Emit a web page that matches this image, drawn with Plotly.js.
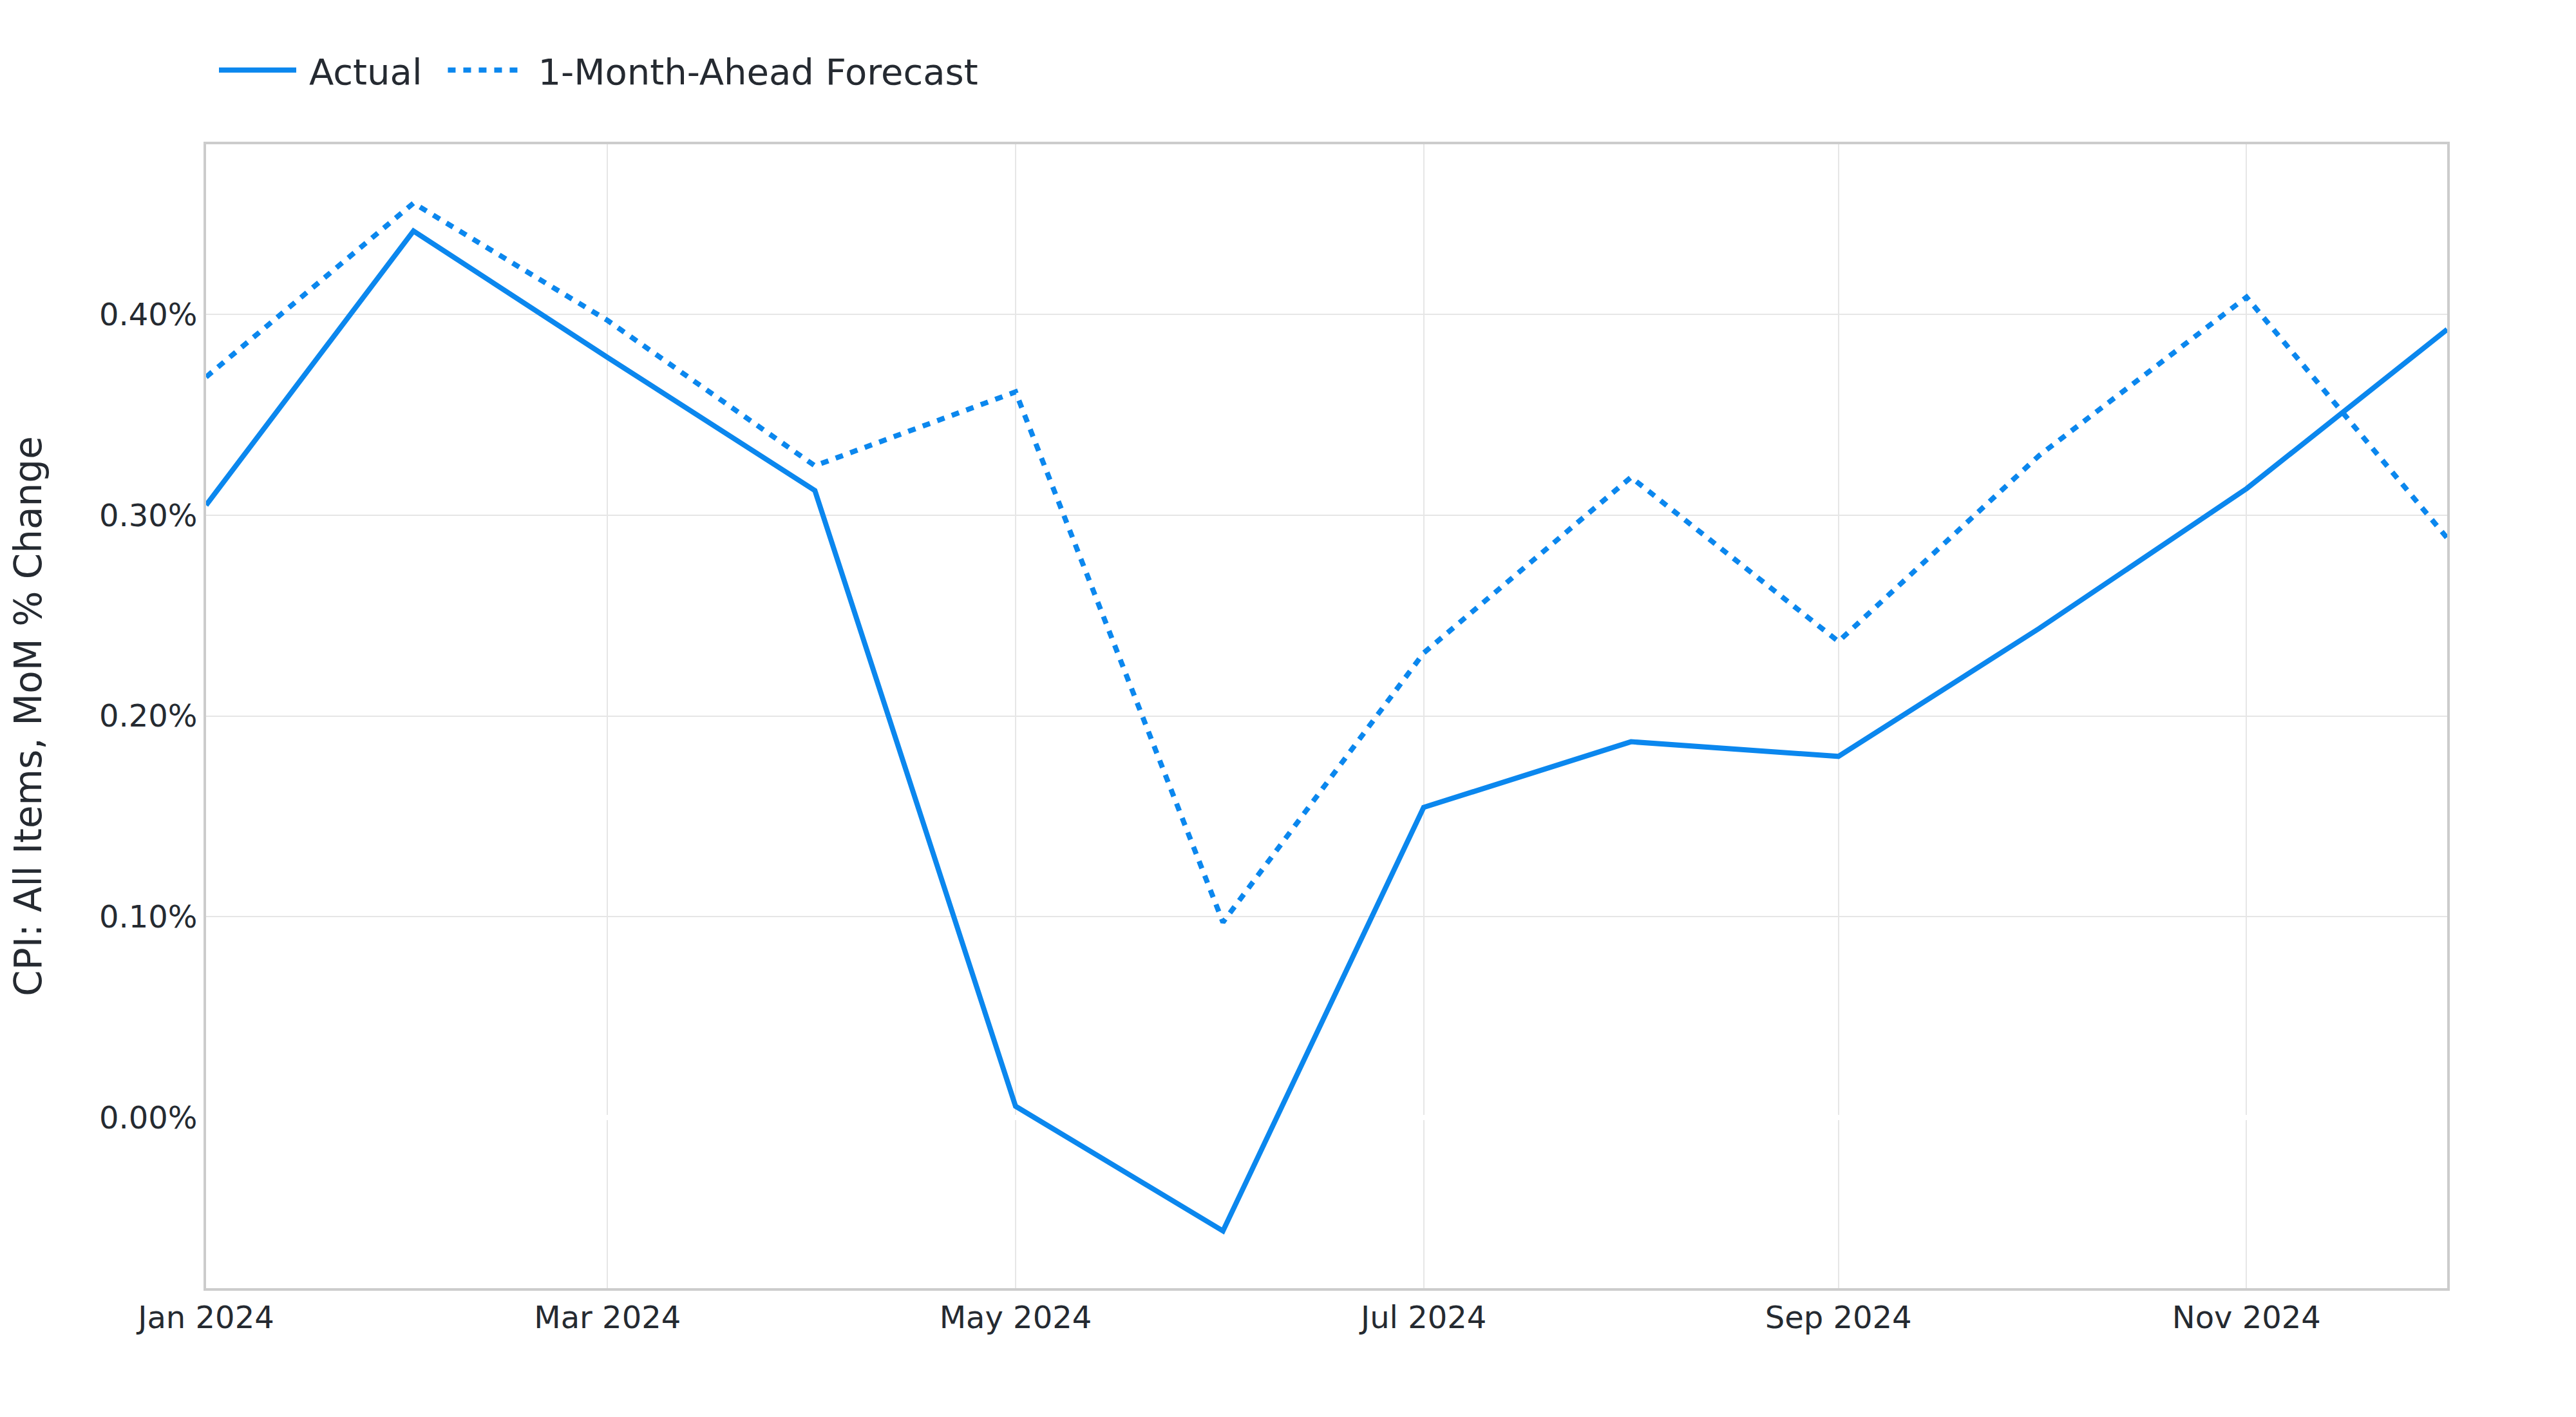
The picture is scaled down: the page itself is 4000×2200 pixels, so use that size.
<!DOCTYPE html>
<html>
<head>
<meta charset="utf-8">
<script src="https://cdn.plot.ly/plotly-3.0.1.min.js"></script>
<style>
  html, body { margin: 0; padding: 0; background: #fff; overflow: hidden; }
  /* chart is laid out at 1000x550 and shown 4x, like an export at scale 4 */
  #wrap { width: 4000px; height: 2200px; overflow: hidden; }
  #myDiv { width: 1000px; height: 550px; transform: scale(4); transform-origin: 0 0; }
</style>
</head>
<body>
<div id="wrap"><div id="myDiv"></div></div>
<script>
// Monthly CPI, all items, month-over-month % change (2024)
var months = ['2024-01-01', '2024-02-01', '2024-03-01', '2024-04-01', '2024-05-01', '2024-06-01',
              '2024-07-01', '2024-08-01', '2024-09-01', '2024-10-01', '2024-11-01', '2024-12-01'];
var actual = [0.305, 0.4415, 0.3786, 0.3123, 0.0057, -0.0564, 0.1545, 0.1872, 0.1799, 0.2436, 0.3132, 0.3925];
var forecast = [0.3688, 0.4554, 0.397, 0.3246, 0.3614, 0.0973, 0.2314, 0.3189, 0.2371, 0.3297, 0.4086, 0.2886];

var blue = '#0b87ee';
var ink = '#252a31';

var trace1 = {
  name: 'Actual',
  x: months,
  y: actual,
  type: 'scatter',
  mode: 'lines',
  line: {color: blue, width: 2}
};
var trace2 = {
  name: '1-Month-Ahead Forecast',
  x: months,
  y: forecast,
  type: 'scatter',
  mode: 'lines',
  line: {color: blue, width: 2, dash: 'dot'}
};

var data = [trace1, trace2];

var layout = {
  width: 1000,
  height: 550,
  margin: {l: 80, r: 49.5, t: 55.5, b: 50},
  paper_bgcolor: '#fff',
  plot_bgcolor: '#fff',
  font: {family: 'DejaVu Sans, Verdana, sans-serif', size: 12, color: ink},
  showlegend: true,
  legend: {
    orientation: 'h',
    x: 0, xanchor: 'left',
    y: 1.064, yanchor: 'middle',
    font: {size: 14, color: ink},
    bgcolor: 'rgba(0,0,0,0)'
  },
  xaxis: {
    type: 'date',
    range: ['2024-01-01', '2024-12-01'],
    tick0: '2024-01-01',
    dtick: 'M2',
    tickformat: '%b %Y',
    showgrid: true,
    gridcolor: '#e6e6e6',
    gridwidth: 0.5,
    showline: true,
    mirror: true,
    linecolor: '#cccccc',
    linewidth: 1,
    ticks: '',
    tickfont: {size: 12, color: ink}
  },
  yaxis: {
    range: [-0.0849, 0.4847],
    dtick: 0.1,
    tickformat: '.2f',
    ticksuffix: '%',
    showgrid: true,
    gridcolor: '#e6e6e6',
    gridwidth: 0.5,
    zeroline: true,
    zerolinecolor: '#ffffff',
    zerolinewidth: 2,
    showline: true,
    mirror: true,
    linecolor: '#cccccc',
    linewidth: 1,
    ticks: '',
    tickfont: {size: 12, color: ink},
    title: {text: 'CPI: All Items, MoM % Change', standoff: 18, font: {size: 14.5, color: ink}}
  }
};

Plotly.newPlot('myDiv', data, layout, {displayModeBar: false, staticPlot: true});
</script>
</body>
</html>
